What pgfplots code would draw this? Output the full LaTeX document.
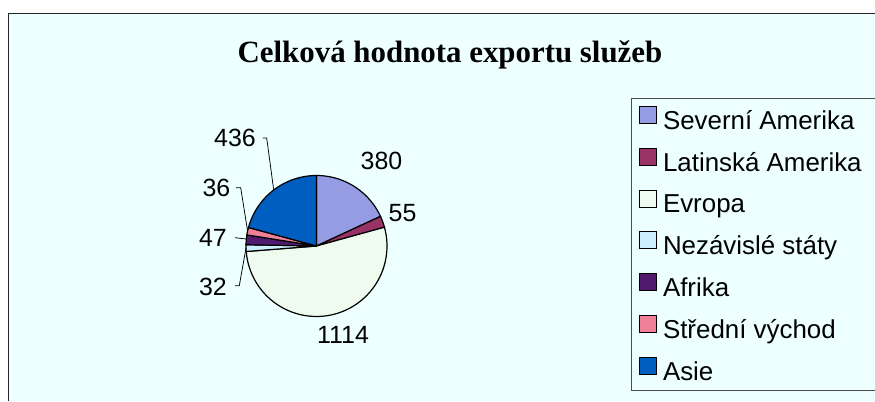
\documentclass[border=0pt]{standalone}
\usepackage{pgfplots}
\pgfplotsset{compat=1.18}
\usepgfplotslibrary{polar}
\usepackage{fontspec}
\setmainfont{Liberation Sans}
\newfontfamily\titlefont{Liberation Serif}
\definecolor{bgc}{HTML}{EEFFFF}
\definecolor{cSA}{HTML}{969CE4}
\definecolor{cLA}{HTML}{993366}
\definecolor{cEV}{HTML}{EEFBEE}
\definecolor{cNS}{HTML}{CCEEFF}
\definecolor{cAF}{HTML}{4F1A6E}
\definecolor{cSV}{HTML}{F08098}
\definecolor{cAS}{HTML}{005EC0}
\begin{document}
\begin{tikzpicture}[x=1bp,y=1bp]
% values (export of services)
\def\vSA{380}\def\vLA{55}\def\vEV{1114}\def\vNS{32}\def\vAF{47}\def\vSV{36}\def\vAS{436}
\pgfmathsetmacro\tot{\vSA+\vLA+\vEV+\vNS+\vAF+\vSV+\vAS}
\pgfmathsetmacro\aO{90}
\pgfmathsetmacro\aA{\aO-\vSA/\tot*360}
\pgfmathsetmacro\aB{\aA-\vLA/\tot*360}
\pgfmathsetmacro\aC{\aB-\vEV/\tot*360}
\pgfmathsetmacro\aD{\aC-\vNS/\tot*360}
\pgfmathsetmacro\aE{\aD-\vAF/\tot*360}
\pgfmathsetmacro\aF{\aE-\vSV/\tot*360}
\pgfmathsetmacro\aG{\aF-\vAS/\tot*360}
\fill[white] (0,0) rectangle (875,401);
\fill[bgc] (8.3,0) rectangle (875,387.7);
\draw[black!85, line width=1.5bp] (8.3,0) -- (8.3,387.7) -- (875,387.7);
\node[anchor=base, font=\titlefont\bfseries\fontsize{31}{37}\selectfont] at (450,339) {Celková hodnota exportu služeb};
\begin{polaraxis}[
  at={(316.5bp,155bp)}, anchor=center,
  width=141bp, height=141bp, scale only axis,
  hide axis, ymin=0, ymax=1, xmin=0, xmax=360, clip=false,
  legend cell align=left,
  legend style={at={(2.7305,1.5496)}, anchor=north west, draw=black!70, line width=1bp,
    fill=bgc, font=\fontsize{26}{31}\selectfont, inner xsep=7bp, inner ysep=7bp, row sep=15bp,
    /tikz/every odd column/.append style={column sep=4bp}},
  legend image code/.code={\draw[#1, line width=1.5bp] (0bp,-3bp) rectangle (17bp,14bp);},
  every axis plot/.append style={draw=black, line width=1.2bp, samples=60},
]
\addplot[fill=cSA, domain=\aA:\aO] {1} -- (axis cs:0,0) -- cycle;
\addlegendentry{\makebox[230bp][l]{Severní Amerika}}
\addplot[fill=cLA, domain=\aB:\aA] {1} -- (axis cs:0,0) -- cycle;
\addlegendentry{Latinská Amerika}
\addplot[fill=cEV, domain=\aC:\aB] {1} -- (axis cs:0,0) -- cycle;
\addlegendentry{Evropa}
\addplot[fill=cNS, domain=\aD:\aC] {1} -- (axis cs:0,0) -- cycle;
\addlegendentry{Nezávislé státy}
\addplot[fill=cAF, domain=\aE:\aD] {1} -- (axis cs:0,0) -- cycle;
\addlegendentry{Afrika}
\addplot[fill=cSV, domain=\aF:\aE] {1} -- (axis cs:0,0) -- cycle;
\addlegendentry{Střední východ}
\addplot[fill=cAS, domain=\aG:\aF] {1} -- (axis cs:0,0) -- cycle;
\addlegendentry{Asie}
\end{polaraxis}
\begin{scope}[every node/.style={anchor=base, font=\fontsize{25}{30}\selectfont, inner sep=0pt}]
\node at (381.5,231.7) {380};
\node at (402.5,180) {55};
\node at (343,58) {1114};
\node at (235,255) {436};
\node at (216.5,205) {36};
\node at (213,155) {47};
\node at (213,106) {32};
\end{scope}
\draw[line width=0.75bp] (262.7,263) -- (266.7,263) -- (273.7,211);
\draw[line width=0.75bp] (236,213.3) -- (240.7,213.3) -- (247.6,170);
\draw[line width=0.75bp] (235,163.3) -- (246.3,162);
\draw[line width=0.75bp] (235,115.3) -- (239.3,115.3) -- (246,153);
\pgfresetboundingbox
\useasboundingbox (0,0) rectangle (875,401);
\end{tikzpicture}
\end{document}
